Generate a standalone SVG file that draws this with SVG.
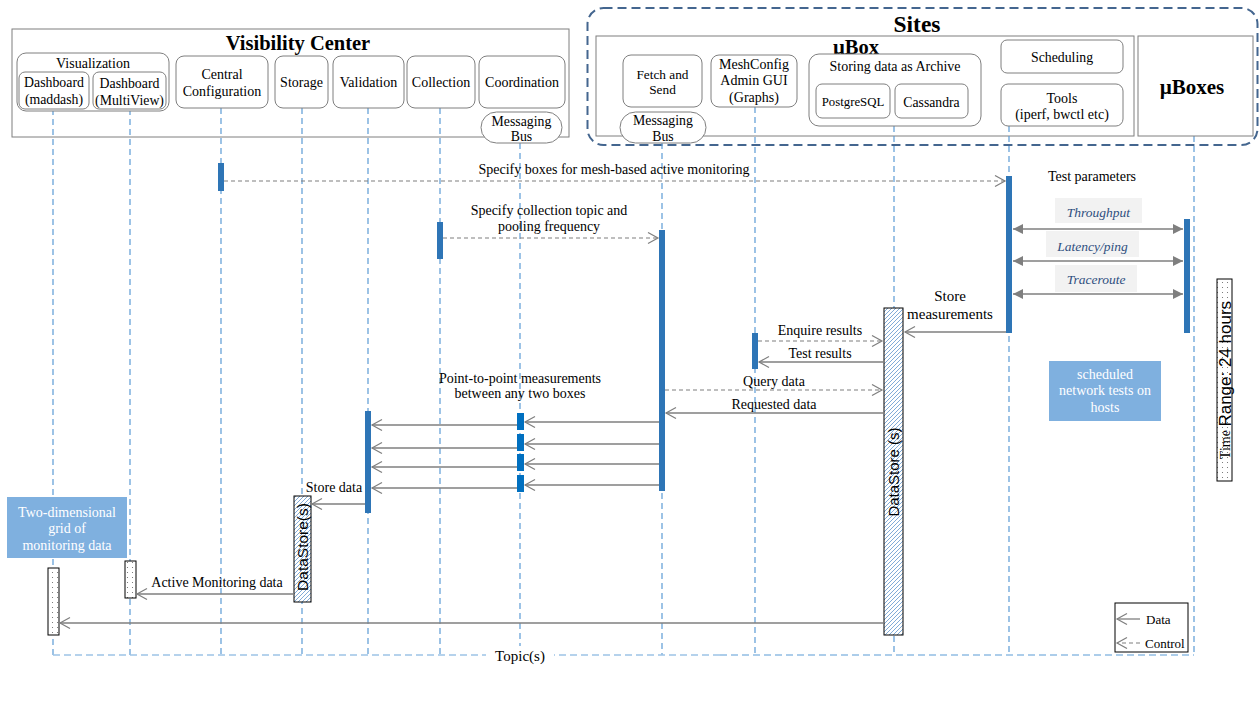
<svg xmlns="http://www.w3.org/2000/svg" width="1260" height="711" viewBox="0 0 1260 711">
<style>
.t{font-family:"Liberation Serif","Times New Roman",serif;fill:#000;}
.s{font-family:"Liberation Sans",Arial,sans-serif;fill:#000;}
.box{fill:#fff;stroke:#7f7f7f;stroke-width:1;}
.life{stroke:#5b9bd5;stroke-width:1.2;stroke-dasharray:6,4;fill:none;}
.bar{fill:#2e75b6;}
.bar2{fill:#0070c0;}
.data{stroke:#7f7f7f;stroke-width:1.3;fill:none;marker-end:url(#open);}
.ctrl{stroke:#7f7f7f;stroke-width:1.2;fill:none;stroke-dasharray:4,3;marker-end:url(#open);}
.dbl{stroke:#7f7f7f;stroke-width:1.5;fill:none;marker-start:url(#tri);marker-end:url(#tri);}
.lbl{fill:#f2f2f2;}
.it{font-family:"Liberation Serif","Times New Roman",serif;font-style:italic;fill:#2f4f7f;font-size:13.5px;}
.note{fill:#7fb0df;}
.nt{font-family:"Liberation Serif","Times New Roman",serif;fill:#fff;font-size:14px;}
.al{font-size:14px;}
</style>
<defs>
<marker id="open" markerUnits="userSpaceOnUse" markerWidth="14" markerHeight="14" refX="11" refY="6" orient="auto">
<path d="M1,0.5 L11,6 L1,11.5" fill="none" stroke="#7f7f7f" stroke-width="1.2"/>
</marker>
<marker id="tri" markerUnits="userSpaceOnUse" markerWidth="12" markerHeight="12" refX="10" refY="5" orient="auto-start-reverse">
<path d="M0,0 L10,5 L0,10 Z" fill="#7f7f7f"/>
</marker>
<pattern id="hatch" patternUnits="userSpaceOnUse" width="4" height="4">
<rect width="4" height="4" fill="#fff"/>
<path d="M-1,1 L1,-1 M0,4 L4,0 M3,5 L5,3" stroke="#4a86c5" stroke-width="0.7"/>
</pattern>
<pattern id="dots" patternUnits="userSpaceOnUse" width="5" height="5">
<rect width="5" height="5" fill="#fff"/>
<circle cx="2.5" cy="2.5" r="0.55" fill="#666"/>
</pattern>
</defs>
<rect width="1260" height="711" fill="#fff"/>

<!-- containers -->
<g id="visibility-center">
<rect x="12" y="29" width="557" height="108" fill="#fff" stroke="#7f7f7f"/>
<text class="t" x="298" y="43" font-size="20.5" font-weight="bold" text-anchor="middle" dominant-baseline="central">Visibility Center</text>
</g>
<g id="sites">
<rect x="587.500" y="8" width="670" height="137" rx="16" fill="none" stroke="#44668f" stroke-width="2" stroke-dasharray="9,5"/>
<text class="t" x="917" y="24" font-size="23.5" font-weight="bold" text-anchor="middle" dominant-baseline="central">Sites</text>
</g>
<g id="ubox">
<rect x="596" y="36" width="538" height="100" fill="#fff" stroke="#7f7f7f"/>
<text class="t" x="856" y="47" font-size="20.5" font-weight="bold" text-anchor="middle" dominant-baseline="central">µBox</text>
</g>

<!-- lifelines -->
<g id="lifelines">
<line class="life" x1="53" y1="109" x2="53" y2="655"/>
<line class="life" x1="130" y1="109" x2="130" y2="655"/>
<line class="life" x1="221" y1="108" x2="221" y2="655"/>
<line class="life" x1="302" y1="108" x2="302" y2="655"/>
<line class="life" x1="368" y1="108" x2="368" y2="655"/>
<line class="life" x1="440" y1="108" x2="440" y2="655"/>
<line class="life" x1="520" y1="143" x2="520" y2="655"/>
<line class="life" x1="662" y1="143" x2="662" y2="655"/>
<line class="life" x1="755" y1="107" x2="755" y2="655"/>
<line class="life" x1="894" y1="126" x2="894" y2="655"/>
<line class="life" x1="1009" y1="126" x2="1009" y2="655"/>
<line class="life" x1="1194" y1="136" x2="1194" y2="655"/>
<line x1="53" y1="655" x2="720" y2="655" stroke="#9dc3e6" stroke-width="1.5" stroke-dasharray="7,4"/>
<line x1="720" y1="655" x2="1194" y2="655" stroke="#5b9bd5" stroke-width="1.2" stroke-dasharray="7,4"/>
<rect x="486" y="646" width="68" height="18" fill="#fff"/>
<text class="t" x="520" y="656" font-size="15" text-anchor="middle" dominant-baseline="central">Topic(s)</text>
</g>

<!-- nodes -->
<g id="visualization">
<rect class="box" x="17" y="53" width="152" height="58" rx="9"/>
<text class="t" x="93" y="63" font-size="14" text-anchor="middle" dominant-baseline="central">Visualization</text>
</g>
<g id="dashboard-maddash">
<rect class="box" x="19" y="72" width="70" height="37" rx="6"/>
<text class="t" x="54" y="82" font-size="13.8" text-anchor="middle" dominant-baseline="central">Dashboard</text>
<text class="t" x="54" y="99" font-size="13.8" text-anchor="middle" dominant-baseline="central">(maddash)</text>
</g>
<g id="dashboard-multiview">
<rect class="box" x="93" y="72" width="73" height="37" rx="6"/>
<text class="t" x="129.500" y="83" font-size="13.8" text-anchor="middle" dominant-baseline="central">Dashboard</text>
<text class="t" x="129.500" y="100" font-size="13.8" text-anchor="middle" dominant-baseline="central">(MultiView)</text>
</g>
<g id="central-configuration">
<rect class="box" x="176" y="56" width="92" height="52" rx="8"/>
<text class="t" x="222" y="74" font-size="14" text-anchor="middle" dominant-baseline="central">Central</text>
<text class="t" x="222" y="91" font-size="14" text-anchor="middle" dominant-baseline="central">Configuration</text>
</g>
<g id="storage">
<rect class="box" x="275" y="56" width="53" height="52" rx="8"/>
<text class="t" x="301.500" y="82" font-size="14" text-anchor="middle" dominant-baseline="central">Storage</text>
</g>
<g id="validation">
<rect class="box" x="333" y="56" width="71" height="52" rx="8"/>
<text class="t" x="368.500" y="82" font-size="14" text-anchor="middle" dominant-baseline="central">Validation</text>
</g>
<g id="collection">
<rect class="box" x="407" y="56" width="68" height="52" rx="8"/>
<text class="t" x="441" y="82" font-size="14" text-anchor="middle" dominant-baseline="central">Collection</text>
</g>
<g id="coordination">
<rect class="box" x="479" y="56" width="86" height="52" rx="8"/>
<text class="t" x="522" y="82" font-size="14" text-anchor="middle" dominant-baseline="central">Coordination</text>
</g>
<g id="messaging-bus-vc">
<rect class="box" x="481" y="112" width="81" height="31" rx="15.500"/>
<text class="t" x="521.500" y="121" font-size="13.8" text-anchor="middle" dominant-baseline="central">Messaging</text>
<text class="t" x="521.500" y="136" font-size="13.8" text-anchor="middle" dominant-baseline="central">Bus</text>
</g>
<g id="fetch-and-send">
<rect class="box" x="623" y="55" width="79" height="52" rx="8"/>
<text class="t" x="662.500" y="74" font-size="13.3" text-anchor="middle" dominant-baseline="central">Fetch and</text>
<text class="t" x="662.500" y="89" font-size="13.3" text-anchor="middle" dominant-baseline="central">Send</text>
</g>
<g id="messaging-bus-site">
<rect class="box" x="620" y="112" width="86" height="31" rx="15.500"/>
<text class="t" x="663" y="120" font-size="13.8" text-anchor="middle" dominant-baseline="central">Messaging</text>
<text class="t" x="663" y="136" font-size="13.8" text-anchor="middle" dominant-baseline="central">Bus</text>
</g>
<g id="meshconfig">
<rect class="box" x="711" y="55" width="86" height="52" rx="8"/>
<text class="t" x="754" y="64" font-size="14" text-anchor="middle" dominant-baseline="central">MeshConfig</text>
<text class="t" x="754" y="80" font-size="14" text-anchor="middle" dominant-baseline="central">Admin GUI</text>
<text class="t" x="754" y="97" font-size="14" text-anchor="middle" dominant-baseline="central">(Graphs)</text>
</g>
<g id="storing-archive">
<rect class="box" x="809" y="54" width="172" height="72" rx="10"/>
<text class="t" x="895" y="66" font-size="14" text-anchor="middle" dominant-baseline="central">Storing data as Archive</text>
</g>
<g id="postgresql">
<rect class="box" x="816" y="84" width="74" height="34" rx="6"/>
<text class="t" x="853" y="102" font-size="12.8" text-anchor="middle" dominant-baseline="central">PostgreSQL</text>
</g>
<g id="cassandra">
<rect class="box" x="895" y="84" width="73" height="34" rx="6"/>
<text class="t" x="931.500" y="102" font-size="13.7" text-anchor="middle" dominant-baseline="central">Cassandra</text>
</g>
<g id="scheduling">
<rect class="box" x="1001" y="40" width="122" height="33" rx="6"/>
<text class="t" x="1062" y="57" font-size="13.8" text-anchor="middle" dominant-baseline="central">Scheduling</text>
</g>
<g id="tools">
<rect class="box" x="1001" y="84" width="122" height="42" rx="7"/>
<text class="t" x="1062" y="98" font-size="14" text-anchor="middle" dominant-baseline="central">Tools</text>
<text class="t" x="1062" y="114" font-size="14" text-anchor="middle" dominant-baseline="central">(iperf, bwctl etc)</text>
</g>
<g id="uboxes">
<rect x="1138" y="36" width="115" height="100" fill="#fff" stroke="#7f7f7f"/>
<text class="t" x="1192" y="87" font-size="21" font-weight="bold" text-anchor="middle" dominant-baseline="central">µBoxes</text>
</g>

<!-- activation bars -->
<g id="activations">
<rect class="bar" x="218" y="163" width="6" height="28"/>
<rect class="bar" x="437" y="222" width="6" height="37"/>
<rect class="bar" x="659" y="230" width="6" height="261"/>
<rect class="bar" x="752" y="333" width="6" height="36"/>
<rect class="bar" x="1006" y="176" width="6" height="157"/>
<rect class="bar" x="1184" y="219" width="6" height="114"/>
<rect class="bar" x="365" y="411" width="6" height="102"/>
<rect class="bar2" x="517" y="413" width="7" height="17"/>
<rect class="bar2" x="517" y="434" width="7" height="17"/>
<rect class="bar2" x="517" y="454" width="7" height="17"/>
<rect class="bar2" x="517" y="475" width="7" height="17"/>
</g>

<g id="datastore-main">
<rect x="884" y="308" width="19" height="327" fill="url(#hatch)" stroke="#000" stroke-width="1"/>
<text class="s" x="893.500" y="472" font-size="15" text-anchor="middle" dominant-baseline="central" transform="rotate(-90 893.500 472)">DataStore (s)</text>
</g>
<g id="datastore-small">
<rect x="294" y="496" width="17" height="106" fill="url(#hatch)" stroke="#000" stroke-width="1"/>
<text class="s" x="302.500" y="547" font-size="15.5" text-anchor="middle" dominant-baseline="central" transform="rotate(-90 302.500 547)">DataStore(s)</text>
</g>
<g id="maddash-bar">
<rect x="48" y="568" width="11" height="67" fill="url(#dots)" stroke="#000"/>
</g>
<g id="multiview-bar">
<rect x="125" y="561" width="11" height="37" fill="url(#dots)" stroke="#000"/>
</g>

<!-- connectors -->
<g id="connectors">
<line class="ctrl" x1="224" y1="181" x2="1005" y2="181"/>
<text class="t al" x="614" y="169" text-anchor="middle" dominant-baseline="central">Specify boxes for mesh-based  active monitoring</text>

<line class="ctrl" x1="443" y1="238" x2="658" y2="238"/>
<text class="t al" x="549" y="210" text-anchor="middle" dominant-baseline="central">Specify collection topic and</text>
<text class="t al" x="549" y="226" text-anchor="middle" dominant-baseline="central">pooling frequency</text>

<text class="t al" x="1092" y="176" text-anchor="middle" dominant-baseline="central">Test parameters</text>
<rect class="lbl" x="1055" y="198" width="87" height="25"/>
<text class="it" x="1098.500" y="212" text-anchor="middle" dominant-baseline="central">Throughput</text>
<line class="dbl" x1="1013" y1="229" x2="1183" y2="229"/>
<rect class="lbl" x="1046" y="231" width="93" height="26"/>
<text class="it" x="1092.500" y="246" text-anchor="middle" dominant-baseline="central">Latency/ping</text>
<line class="dbl" x1="1013" y1="261" x2="1183" y2="261"/>
<rect class="lbl" x="1055" y="265" width="82" height="27"/>
<text class="it" x="1096" y="279" text-anchor="middle" dominant-baseline="central">Traceroute</text>
<line class="dbl" x1="1013" y1="294" x2="1183" y2="294"/>

<line class="data" x1="1006" y1="332" x2="905" y2="332"/>
<text class="t" x="950" y="296" font-size="15" text-anchor="middle" dominant-baseline="central">Store</text>
<text class="t" x="950" y="314" font-size="15" text-anchor="middle" dominant-baseline="central">measurements</text>

<line class="ctrl" x1="758" y1="341" x2="882" y2="341"/>
<text class="t al" x="820" y="330" text-anchor="middle" dominant-baseline="central">Enquire results</text>
<line class="data" x1="884" y1="362" x2="759" y2="362"/>
<text class="t al" x="820" y="353" text-anchor="middle" dominant-baseline="central">Test results</text>

<line class="ctrl" x1="665" y1="390" x2="882" y2="390"/>
<text class="t al" x="774" y="381" text-anchor="middle" dominant-baseline="central">Query data</text>
<line class="data" x1="884" y1="413" x2="666" y2="413"/>
<text class="t al" x="774" y="404" text-anchor="middle" dominant-baseline="central">Requested data</text>

<text class="t al" x="520" y="378" text-anchor="middle" dominant-baseline="central">Point-to-point measurements</text>
<text class="t al" x="520" y="393" text-anchor="middle" dominant-baseline="central">between any two boxes</text>

<line class="data" x1="659" y1="422" x2="525" y2="422"/>
<line class="data" x1="659" y1="444" x2="525" y2="444"/>
<line class="data" x1="659" y1="464" x2="525" y2="464"/>
<line class="data" x1="659" y1="485" x2="525" y2="485"/>
<line class="data" x1="517" y1="425" x2="372" y2="425"/>
<line class="data" x1="517" y1="448" x2="372" y2="448"/>
<line class="data" x1="517" y1="467" x2="372" y2="467"/>
<line class="data" x1="517" y1="488" x2="372" y2="488"/>

<line class="data" x1="365" y1="504" x2="312" y2="504"/>
<text class="t al" x="334" y="487" text-anchor="middle" dominant-baseline="central">Store data</text>

<line class="data" x1="294" y1="594" x2="137" y2="594"/>
<text class="t al" x="217" y="582" text-anchor="middle" dominant-baseline="central">Active Monitoring data</text>

<line class="data" x1="884" y1="623" x2="60" y2="623"/>
</g>

<!-- notes -->
<g id="note-grid">
<rect class="note" x="7" y="497" width="120" height="61"/>
<text class="nt" x="67" y="512" text-anchor="middle" dominant-baseline="central">Two-dimensional</text>
<text class="nt" x="67" y="528" text-anchor="middle" dominant-baseline="central">grid of</text>
<text class="nt" x="67" y="545" text-anchor="middle" dominant-baseline="central">monitoring data</text>
</g>
<g id="note-scheduled">
<rect class="note" x="1049" y="361" width="112" height="60"/>
<text class="nt" x="1105" y="374" text-anchor="middle" dominant-baseline="central">scheduled</text>
<text class="nt" x="1105" y="390" text-anchor="middle" dominant-baseline="central">network tests on</text>
<text class="nt" x="1105" y="407" text-anchor="middle" dominant-baseline="central">hosts</text>
</g>
<g id="time-range">
<rect x="1217" y="279" width="15" height="202" fill="url(#dots)" stroke="#000"/>
<text x="1225" y="380" text-anchor="middle" dominant-baseline="central" transform="rotate(-90 1225 380)"><tspan class="t" font-size="14">Time </tspan><tspan class="s" font-size="17">Range: 24 hours</tspan></text>
</g>
<g id="legend">
<rect x="1115" y="603" width="73" height="49" fill="#fff" stroke="#000"/>
<line class="data" x1="1140" y1="619" x2="1117" y2="619"/>
<text class="t" x="1146" y="619" font-size="13" dominant-baseline="central">Data</text>
<line class="ctrl" x1="1140" y1="643" x2="1117" y2="643"/>
<text class="t" x="1145" y="643" font-size="13" dominant-baseline="central">Control</text>
</g>
</svg>
